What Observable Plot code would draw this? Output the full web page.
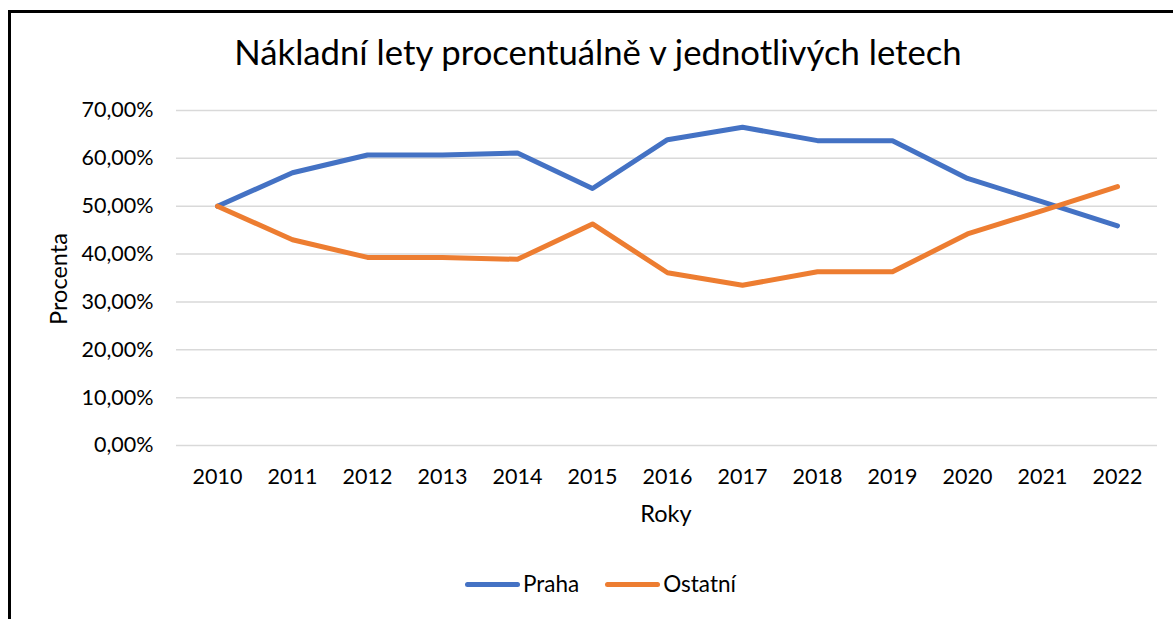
<!DOCTYPE html>
<html>
<head>
<meta charset="utf-8">
<script src="https://cdn.jsdelivr.net/npm/d3@7"></script>
<script src="https://cdn.jsdelivr.net/npm/@observablehq/plot@0.6"></script>
<style>
  html, body { margin: 0; padding: 0; background: #fff; }
  body { font-family: Lato, "Open Sans", sans-serif; color: #000; }
  #wrap { position: relative; width: 1173px; height: 619px; overflow: hidden; }
  #frame { position: absolute; left: 8px; top: 10px; width: 1300px; height: 800px;
           border-left: 3px solid #000; border-top: 3px solid #000; }
  #chart { position: absolute; left: 0; top: 0; }
  .lbl { position: absolute; white-space: nowrap; line-height: 1; }
  #title { font-size: 34.7px; left: 598px; top: 35px; transform: translateX(-50%); }
  #xlabel { font-size: 23.5px; left: 666px; top: 502px; transform: translateX(-50%); }
  #ylabel { font-size: 23.5px; left: 59px; top: 279px; transform: translate(-50%, -50%) rotate(-90deg); }
  #legend { position: absolute; left: 465px; top: 573px; display: flex; align-items: center; font-size: 22.5px; line-height: 1; }
  .item { display: flex; align-items: center; margin-right: 26px; }
  .sw { display: inline-block; width: 55px; height: 5px; border-radius: 3px; margin-right: 3px; }
</style>
</head>
<body>
<div id="wrap">
  <div id="frame"></div>
  <div id="chart"></div>
  <div class="lbl" id="title"></div>
  <div class="lbl" id="xlabel"></div>
  <div class="lbl" id="ylabel"></div>
  <div id="legend"></div>
</div>
<script>
const title = "Nákladní lety procentuálně v jednotlivých letech";
const xTitle = "Roky";
const yTitle = "Procenta";
const years = ["2010","2011","2012","2013","2014","2015","2016","2017","2018","2019","2020","2021","2022"];
const seriesNames = ["Praha", "Ostatní"];
const seriesColors = ["#4472C4", "#ED7D31"];
const praha   = [50.0, 57.0, 60.7, 60.7, 61.1, 53.7, 63.9, 66.5, 63.7, 63.7, 55.8, 50.9, 45.9];
const ostatni = [50.0, 43.0, 39.3, 39.3, 38.9, 46.3, 36.1, 33.5, 36.3, 36.3, 44.2, 49.1, 54.1];
const yTicks = [0, 10, 20, 30, 40, 50, 60, 70];

const rows = [];
[praha, ostatni].forEach((vals, s) => {
  vals.forEach((v, i) => rows.push({year: years[i], value: v, series: seriesNames[s]}));
});

const fmt = v => v.toFixed(2).replace(".", ",") + "%";

const chart = Plot.plot({
  width: 1173,
  height: 619,
  marginTop: 110,
  marginBottom: 174,
  marginLeft: 176,
  marginRight: 16,
  style: { fontFamily: "Lato, 'Open Sans', sans-serif", fontSize: "21.5px", color: "#000", background: "transparent" },
  x: { type: "point", domain: years, padding: 0.5, label: null },
  y: { domain: [0, 70], label: null },
  color: { domain: seriesNames, range: seriesColors },
  marks: [
    Plot.ruleY(yTicks, { stroke: "#d9d9d9", strokeWidth: 1.5 }),
    Plot.axisY({ ticks: yTicks, tickFormat: fmt, tickSize: 0, tickPadding: 23, fontSize: 21.5, label: null }),
    Plot.axisX({ tickSize: 0, tickPadding: 23, fontSize: 21.5, label: null }),
    Plot.line(rows, { x: "year", y: "value", z: "series", stroke: "series", strokeWidth: 5,
                      strokeLinecap: "round", strokeLinejoin: "round" })
  ]
});
document.getElementById("chart").appendChild(chart);

document.getElementById("title").textContent = title;
document.getElementById("xlabel").textContent = xTitle;
document.getElementById("ylabel").textContent = yTitle;
const legend = document.getElementById("legend");
seriesNames.forEach((name, i) => {
  const item = document.createElement("div");
  item.className = "item";
  const sw = document.createElement("span");
  sw.className = "sw";
  sw.style.background = seriesColors[i];
  const t = document.createElement("span");
  t.textContent = name;
  item.appendChild(sw);
  item.appendChild(t);
  legend.appendChild(item);
});
</script>
</body>
</html>
